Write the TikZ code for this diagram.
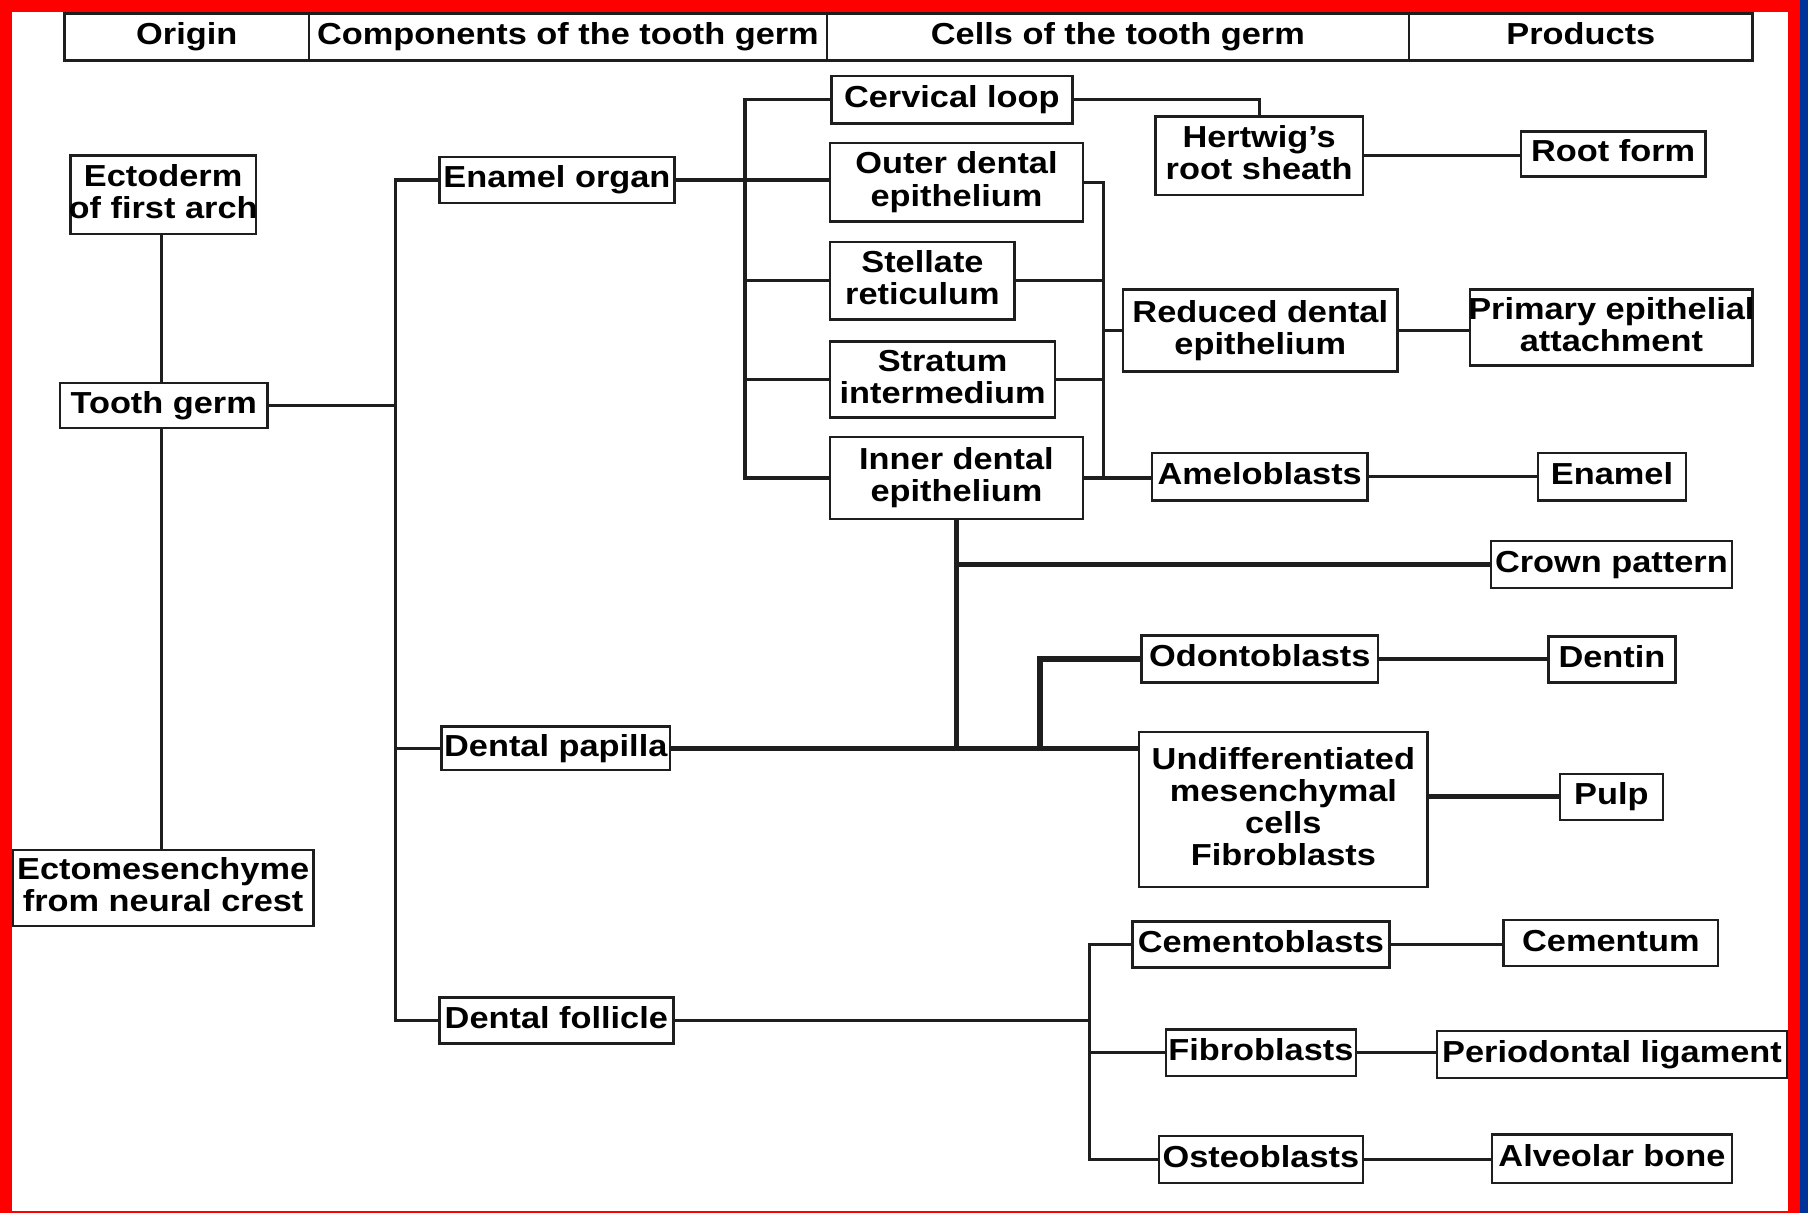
\documentclass[tikz,border=0pt]{standalone}
\usepackage{fontspec}
\setmainfont{Liberation Sans}[FakeStretch=1.13]
\definecolor{framered}{RGB}{255,0,0}
\definecolor{frameblue}{RGB}{0,51,153}
\definecolor{ink}{RGB}{30,30,30}
\newcommand\lbl{\fontsize{15}{15.9}\selectfont\bfseries}
% box placed by its corners (x1,y1)-(x2,y2); text centred, never widening the box
\newcommand\placebox[6]{%
  \pgfmathsetmacro\cbW{(#4-#2)*0.02}%
  \pgfmathsetmacro\cbH{(#5-#3)*0.02}%
  \node[cellbox, minimum width=\cbW cm, minimum height=\cbH cm] (#1)
    at ({(#2+#4)/2},{(#3+#5)/2})
    {\raisebox{-4.3pt}[0pt][0pt]{\makebox[0pt]{\begin{tabular}{@{}c@{}}#6\end{tabular}}}};}
\begin{document}
\begin{tikzpicture}[x=0.02cm, y=-0.02cm,
  cellbox/.style={draw=ink, line width=1.2pt, fill=white, inner sep=0pt, outer sep=0pt, font=\lbl, text=black},
  conn/.style={draw=ink, line width=1.6pt},
  thick conn/.style={draw=ink, line width=2.6pt}]
\useasboundingbox (0,0) rectangle (1568,1052);
\fill[white] (0,0) rectangle (1568,1052);

% header row
\placebox{hOrigin}{56}{11.6}{268}{52.6}{Origin}
\placebox{hComp}{268}{11.6}{717}{52.6}{Components of the tooth germ}
\placebox{hCells}{717}{11.6}{1222}{52.6}{Cells of the tooth germ}
\placebox{hProd}{1222}{11.6}{1520}{52.6}{Products}

% origin
\placebox{ecto}{61}{135}{222}{203}{Ectoderm\\of first arch}
\placebox{tooth}{52}{332}{232}{371}{Tooth germ}
\placebox{ectomes}{11}{737}{272}{803}{Ectomesenchyme\\from neural crest}

% components
\placebox{enamel}{381}{136}{585}{176}{Enamel organ}
\placebox{papilla}{383}{630}{581}{668}{Dental papilla}
\placebox{follicle}{381}{865}{584}{905}{Dental follicle}

% cells
\placebox{cervical}{721}{66}{930}{107}{Cervical loop}
\placebox{outer}{720}{124}{939}{192}{Outer dental\\epithelium}
\placebox{stellate}{720}{210}{880}{277}{Stellate\\reticulum}
\placebox{stratum}{720}{296}{915}{362}{Stratum\\intermedium}
\placebox{inner}{720}{379}{939}{450}{Inner dental\\epithelium}
\placebox{hertwig}{1002}{101}{1182}{169}{Hertwig's\\root sheath}
\placebox{reduced}{974}{251}{1212}{322}{Reduced dental\\epithelium}
\placebox{amelo}{999}{393}{1186}{434}{Ameloblasts}
\placebox{odonto}{990}{551}{1195}{592}{Odontoblasts}
\placebox{undiff}{988}{635}{1238}{769}{Undifferentiated\\mesenchymal\\cells\\Fibroblasts}
\placebox{cemento}{982}{799}{1205}{839}{Cementoblasts}
\placebox{fibro}{1011}{893}{1176}{933}{Fibroblasts}
\placebox{osteo}{1005}{985}{1182}{1026}{Osteoblasts}

% products
\placebox{root}{1319}{114}{1479}{153}{Root form}
\placebox{primary}{1275}{251}{1520}{317}{Primary epithelial\\attachment}
\placebox{enamelP}{1334}{393}{1462}{434}{Enamel}
\placebox{crown}{1293}{469}{1502}{510}{Crown pattern}
\placebox{dentin}{1343}{552}{1453}{592}{Dentin}
\placebox{pulp}{1353}{671}{1442}{711}{Pulp}
\placebox{cementum}{1304}{798}{1490}{838}{Cementum}
\placebox{perio}{1246}{894}{1550}{935}{Periodontal ligament}
\placebox{alveolar}{1294}{984}{1502}{1026}{Alveolar bone}

% junction columns
\coordinate (v0) at (140,0);
\coordinate (jA) at (343,0);
\coordinate (jB) at (646,0);
\coordinate (jC) at (957,0);
\coordinate (jO) at (902,0);
\coordinate (jD) at (945,0);

% origin column
\draw[conn] (ecto.south -| v0) -- (tooth.north -| v0);
\draw[conn] (tooth.south -| v0) -- (ectomes.north -| v0);
\draw[conn] (tooth.east) -- (tooth.east -| jA);

% tooth germ to its three components
\draw[conn] (enamel.west) -- (enamel.west -| jA) -- (follicle.west -| jA) -- (follicle.west);
\draw[conn] (papilla.west) -- (papilla.west -| jA);

% enamel organ to its layers
\draw[conn] (enamel.east) -- (enamel.east -| outer.west);
\draw[conn] (cervical.west) -- (cervical.west -| jB) -- (inner.west -| jB) -- (inner.west);
\draw[conn] (stellate.west) -- (stellate.west -| jB);
\draw[conn] (stratum.west) -- (stratum.west -| jB);

% cervical loop to Hertwig's root sheath
\draw[conn] (cervical.east) -| (hertwig.north);
\draw[conn] (hertwig.east) -- (hertwig.east -| root.west);

% layers to reduced dental epithelium and ameloblasts
\draw[conn] (outer.east) -- (outer.east -| jC) -- (inner.east -| jC);
\draw[conn] (stellate.east) -- (stellate.east -| jC);
\draw[conn] (stratum.east) -- (stratum.east -| jC);
\draw[conn] (reduced.west) -- (reduced.west -| jC);
\draw[conn] (inner.east) -- (inner.east -| amelo.west);
\draw[conn] (reduced.east) -- (reduced.east -| primary.west);
\draw[conn] (amelo.east) -- (amelo.east -| enamelP.west);

% dental papilla
\draw[thick conn] (inner.south) -- (inner.south |- papilla.east);
\draw[thick conn] (crown.west) -- (crown.west -| inner.south);
\draw[thick conn] (papilla.east) -- (papilla.east -| undiff.west);
\draw[thick conn] (odonto.west) -| (jO |- papilla.east);
\draw[conn] (odonto.east) -- (odonto.east -| dentin.west);
\draw[thick conn] (undiff.east |- pulp.west) -- (pulp.west);

% dental follicle
\draw[conn] (follicle.east) -- (follicle.east -| jD);
\draw[conn] (cemento.west) -- (cemento.west -| jD) -- (osteo.west -| jD) -- (osteo.west);
\draw[conn] (fibro.west) -- (fibro.west -| jD);
\draw[conn] (cemento.east) -- (cemento.east -| cementum.west);
\draw[conn] (fibro.east) -- (fibro.east -| perio.west);
\draw[conn] (osteo.east) -- (osteo.east -| alveolar.west);

% coloured frame
\fill[framered] (0,0) rectangle (1561.3,10.4);
\fill[framered] (0,0) rectangle (10.4,1052);
\fill[framered] (1550.7,0) rectangle (1561.3,1052);
\fill[framered] (0,1050.5) rectangle (1561.3,1052);
\fill[frameblue] (1561.3,0) rectangle (1568,1052);
\end{tikzpicture}
\end{document}
